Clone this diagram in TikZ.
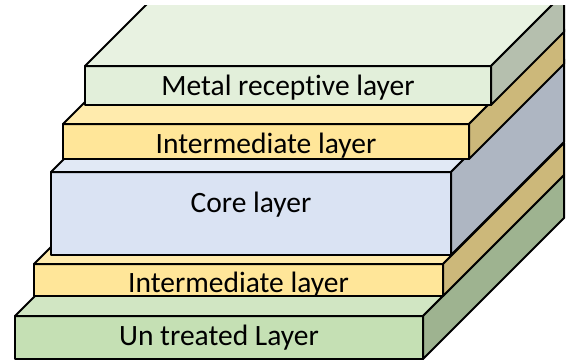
\documentclass[tikz,border=0pt]{standalone}
\usepackage{fontspec}
\setmainfont{Carlito}[Ligatures=NoCommon]
\usepackage{xcolor}
\usepackage{tikz}
\usetikzlibrary{positioning,calc}
\definecolor{metalc}{HTML}{E2EFDA}
\definecolor{interc}{HTML}{FFE699}
\definecolor{corec}{HTML}{DAE3F3}
\definecolor{basec}{HTML}{C5E0B4}

\begin{document}
\begin{tikzpicture}[x=1pt, y=-1pt, line width=2pt, line join=round,
  f/.style={draw, inner sep=0pt, outer sep=0pt, anchor=north west},
  t/.style={anchor=base, font=\fontsize{29.5}{31}\selectfont, text=black}]
\useasboundingbox (0,0) rectangle (571,362);
\clip (0,5) rectangle (571,362);
% bottom layer first, each upper one sits on it
\node[f, fill=basec, minimum width=408pt, minimum height=43pt] (base) at (15,316) {};
\draw[fill=basec!80!white] (base.north west) -- ++(141,-141) -- ++(408,0) -- (base.north east) -- cycle;
\draw[fill=basec!80!black] (base.north east) -- ++(141,-141) -- ++(0,43) -- (base.south east) -- cycle;
\node[t] (basetxt) at ([yshift=14pt]base.south) {Un treated Layer};

\node[f, fill=interc, minimum width=409pt, minimum height=32pt] (lowint) at (34,264) {};
\draw[fill=interc!80!white] (lowint.north west) -- ++(121,-121) -- ++(409,0) -- (lowint.north east) -- cycle;
\draw[fill=interc!80!black] (lowint.north east) -- ++(121,-121) -- ++(0,32) -- (lowint.south east) -- cycle;
\node[t] (lowinttxt) at ([yshift=4pt]lowint.south) {Intermediate layer};

\node[f, fill=corec, minimum width=400pt, minimum height=83pt] (core) at (51,172) {};
\draw[fill=corec!80!white] (core.north west) -- ++(113,-113) -- ++(400,0) -- (core.north east) -- cycle;
\draw[fill=corec!80!black] (core.north east) -- ++(113,-113) -- ++(0,83) -- (core.south east) -- cycle;
\node[t] (coretxt) at ([yshift=43pt]core.south) {Core layer};

\node[f, fill=interc, minimum width=406pt, minimum height=35pt] (upint) at (63,124) {};
\draw[fill=interc!80!white] (upint.north west) -- ++(95,-95) -- ++(406,0) -- (upint.north east) -- cycle;
\draw[fill=interc!80!black] (upint.north east) -- ++(95,-95) -- ++(0,35) -- (upint.south east) -- cycle;
\node[t] (upinttxt) at ([yshift=6pt]upint.south) {Intermediate layer};

\node[f, fill=metalc, minimum width=406pt, minimum height=39pt] (metal) at (85,66) {};
\draw[fill=metalc!80!white] (metal.north west) -- ++(73,-73) -- ++(406,0) -- (metal.north east) -- cycle;
\draw[fill=metalc!80!black] (metal.north east) -- ++(73,-73) -- ++(0,39) -- (metal.south east) -- cycle;
\node[t] (metaltxt) at ([yshift=10pt]metal.south) {Metal receptive layer};
\end{tikzpicture}
\end{document}
